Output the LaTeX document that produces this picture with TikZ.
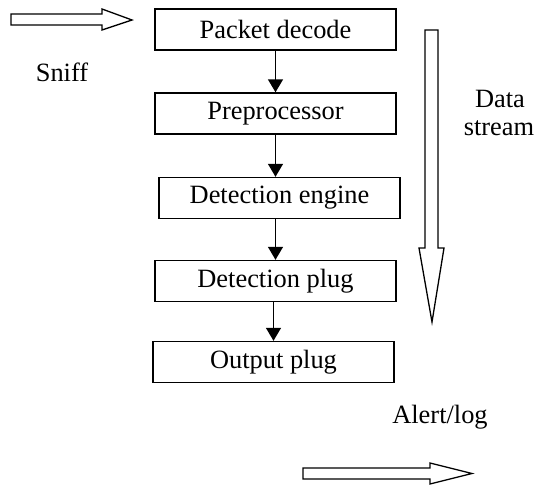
\documentclass[tikz,border=0pt]{standalone}
\usepackage{fontspec}
\setmainfont{Liberation Serif}
\usetikzlibrary{arrows.meta}
\begin{document}
\begin{tikzpicture}[x=1pt,y=-1pt,
  stagebox/.style={draw,line width=1.4pt,minimum width=241pt,minimum height=41pt,inner sep=0pt,font=\fontsize{26.4}{31}\selectfont},
  lbl/.style={font=\fontsize{26.4}{30}\selectfont,inner sep=0pt},
  flow/.style={line width=1.4pt,-{Triangle[width=15pt,length=13pt]}},
  blockarrow/.style={draw,line width=1.3pt,line join=miter,fill=white}]
\useasboundingbox (0,0) rectangle (543,487);
\node[stagebox] (pd) at (275.5,29.5) {Packet decode};
\node[stagebox] (pp) at (275.5,113.5) {Preprocessor};
\node[stagebox] (de) at (279.5,198) {Detection engine};
\node[stagebox] (dp) at (275.5,281) {Detection plug};
\node[stagebox] (op) at (273.5,362) {Output plug};
\draw[flow] (pd.south) -- (pp.north);
\draw[flow] (pp.south) -- ([xshift=-4pt]de.north);
\draw[flow] ([xshift=-4pt]de.south) -- (dp.north);
\draw[flow] ([xshift=-2pt]dp.south) -- (op.north);
% Sniff block arrow
\draw[blockarrow] (11,14) -- (102,14) -- (102,9) -- (132,20) -- (102,30) -- (102,25) -- (11,25) -- cycle;
\node[lbl] (sniff) at (62,72) {Sniff};
% Data stream block arrow
\draw[blockarrow] (425,30) -- (438,30) -- (438,248) -- (444,248) -- (432,322) -- (419,248) -- (425,248) -- cycle;
\node[lbl,anchor=base] (ds1) at (500,107) {Data};
\node[lbl,anchor=base] (ds2) at (499,135) {stream};
% Alert/log block arrow
\node[lbl] (al) at (440,417) {Alert/log};
\draw[blockarrow] (303,468) -- (430,468) -- (430,463) -- (472,473.5) -- (430,484) -- (430,479) -- (303,479) -- cycle;
\end{tikzpicture}
\end{document}
